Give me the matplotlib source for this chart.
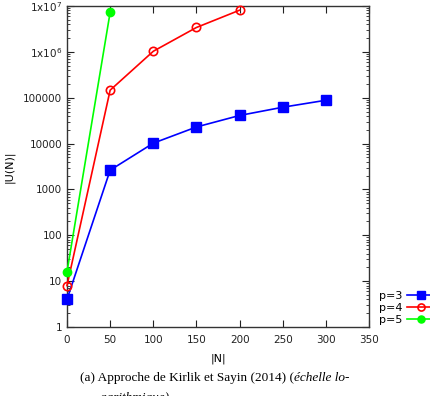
import matplotlib
matplotlib.use('Agg')
import matplotlib.pyplot as plt
from matplotlib.ticker import FixedLocator, FixedFormatter, LogLocator, NullFormatter

# Data
n_p3 = [0, 50, 100, 150, 200, 250, 300]
u_p3 = [4, 2630, 10200, 23000, 41000, 62000, 88000]

n_p4 = [0, 50, 100, 150, 200]
u_p4 = [8, 146000, 1030000, 3400000, 8100000]

n_p5 = [0, 50]
u_p5 = [16, 7300000]

xticks = [0, 50, 100, 150, 200, 250, 300, 350]
yticks = [1, 10, 100, 1000, 10000, 100000, 1e6, 1e7]
ylabels = ['1', '10', '100', '1000', '10000', '100000', r'1x10$^{6}$', r'1x10$^{7}$']

plt.rcParams['font.family'] = 'DejaVu Sans'
fig = plt.figure(figsize=(4.3, 3.96), dpi=100)
ax = fig.add_axes([67 / 430, 69 / 396, 302 / 430, 321 / 396])

ax.plot(n_p3, u_p3, color='#0000ff', marker='s', markersize=7, lw=1.2, label='p=3', clip_on=False, zorder=3)
ax.plot(n_p4, u_p4, color='#ff0000', marker='o', markersize=6, mfc='none', mew=1.2, lw=1.2,
        label='p=4', clip_on=False, zorder=3)
ax.plot(n_p5, u_p5, color='#00ff00', marker='o', markersize=6, lw=1.2, label='p=5', clip_on=False, zorder=3)

ax.set_yscale('log')
ax.set_xlim(0, 350)
ax.set_ylim(1, 1e7)
ax.xaxis.set_major_locator(FixedLocator(xticks))
ax.yaxis.set_major_locator(FixedLocator(yticks))
ax.yaxis.set_major_formatter(FixedFormatter(ylabels))
ax.yaxis.set_minor_locator(LogLocator(base=10, subs=range(2, 10)))
ax.yaxis.set_minor_formatter(NullFormatter())
ax.tick_params(which='both', direction='in', top=True, right=True, labelsize=7.5, colors='#222222')
ax.tick_params(which='major', length=5, width=0.8)
ax.tick_params(which='minor', length=2.5, width=0.6)
ax.tick_params(axis='x', pad=6)
for s in ax.spines.values():
    s.set_color('#333333')
    s.set_linewidth(1.0)

ax.set_xlabel('|N|', fontsize=8, labelpad=6)
ax.set_ylabel('|U(N)|', fontsize=8, labelpad=6)

ax.legend(loc='lower left', bbox_to_anchor=(379 / 430, 71 / 396), bbox_transform=fig.transFigure,
          frameon=False, markerfirst=False, fontsize=8, handlelength=2.6, markerscale=0.85,
          borderpad=0, borderaxespad=0, labelspacing=0.2, handletextpad=0.4)

# caption (second line is cut by the bottom edge, as in the reference)
cap_font = dict(family='Liberation Serif', fontsize=9.5)
t1 = fig.text(80 / 430, 18 / 396, '(a) Approche de Kirlik et Sayin (2014) (', ha='left', va='center', **cap_font)
fig.canvas.draw()
bb = t1.get_window_extent()
fig.text(bb.x1 / 430, 18 / 396, 'échelle lo-', ha='left', va='center', style='italic', **cap_font)
fig.text(100 / 430, -2 / 396, 'garithmique)', ha='left', va='center', style='italic', **cap_font)

fig.savefig('out.png', dpi=100)
